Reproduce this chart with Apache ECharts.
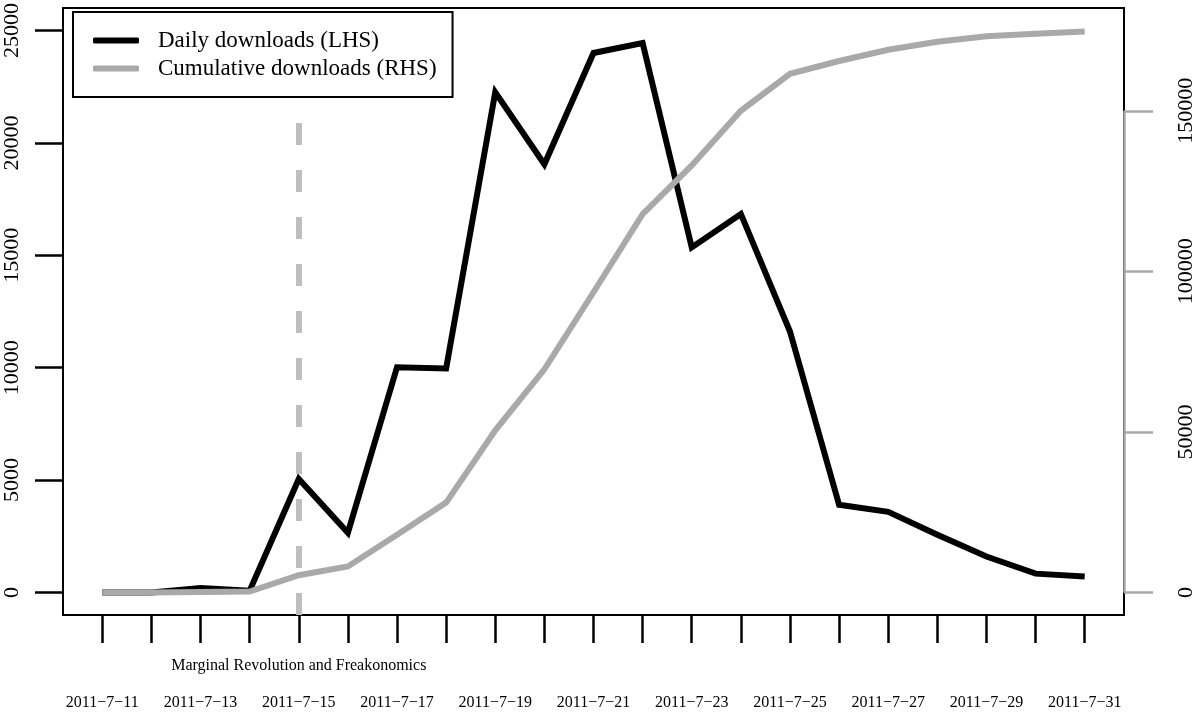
<!DOCTYPE html>
<html>
<head>
<meta charset="utf-8">
<script src="https://cdn.jsdelivr.net/npm/echarts@6/dist/echarts.min.js"></script>
<style>
html,body{margin:0;padding:0;background:#fff;}
#chart{width:1200px;height:713px;}
</style>
</head>
<body>
<div id="chart"></div>
<script>
var dates = ['2011−7−11','2011−7−12','2011−7−13','2011−7−14','2011−7−15','2011−7−16','2011−7−17',
  '2011−7−18','2011−7−19','2011−7−20','2011−7−21','2011−7−22','2011−7−23','2011−7−24',
  '2011−7−25','2011−7−26','2011−7−27','2011−7−28','2011−7−29','2011−7−30','2011−7−31'];
var daily = [0, 0, 200, 80, 5050, 2660, 10020, 9970, 22250, 19050, 24000, 24440, 15350, 16840,
  11610, 3900, 3590, 2570, 1600, 840, 710];
var cumulative = [0, 0, 200, 300, 5400, 8100, 18000, 28000, 50500, 69500, 93500, 117800, 133000, 150000,
  161500, 165500, 169000, 171500, 173200, 174000, 174700];
var leftTicks = [0, 5000, 10000, 15000, 20000, 25000];
var rightTicks = [0, 50000, 100000, 150000];
var eventIndex = 4;
var eventLabel = 'Marginal Revolution and Freakonomics';
var seriesNames = ['Daily downloads (LHS)', 'Cumulative downloads (RHS)'];

var FONT = '"Liberation Serif", "Times New Roman", serif';
var idx = dates.map(function (d, i) { return i; });
var labelIdx = idx.filter(function (i) { return i % 2 === 0; });
var xMin = -0.8, xMax = dates.length - 1 + 0.8;
var plain = function (v) { return String(v); };

var chart = echarts.init(document.getElementById('chart'), null, {renderer: 'canvas'});
chart.setOption({
  animation: false,
  backgroundColor: '#fff',
  grid: {left: 63, right: 76, top: 7, bottom: 98, show: true, borderColor: '#000', borderWidth: 2, backgroundColor: 'transparent'},
  legend: {
    left: 73, top: 12, orient: 'vertical', z: 20,
    padding: [17, 16, 17, 20], itemGap: 5,
    itemWidth: 46, itemHeight: 6,
    backgroundColor: '#fff', borderColor: '#000', borderWidth: 2,
    textStyle: {fontFamily: FONT, fontSize: 23, color: '#000', lineHeight: 23, padding: [0, 0, 0, 14]},
    data: [
      {name: seriesNames[0], icon: 'roundRect', itemStyle: {color: '#000'}},
      {name: seriesNames[1], icon: 'roundRect', itemStyle: {color: '#a9a9a9'}}
    ]
  },
  xAxis: [{
    type: 'value', min: xMin, max: xMax,
    splitLine: {show: false},
    axisLine: {show: true, onZero: false, lineStyle: {color: '#000', width: 2}},
    axisTick: {show: true, customValues: idx, length: 28, lineStyle: {color: '#000', width: 2.5}},
    axisLabel: {customValues: labelIdx, margin: 80, fontFamily: FONT, fontSize: 16, color: '#000',
      formatter: function (v) { return dates[Math.round(v)]; }}
  }, {
    type: 'value', min: xMin, max: xMax, position: 'bottom',
    splitLine: {show: false}, axisLine: {show: false, onZero: false}, axisTick: {show: false},
    axisLabel: {customValues: [eventIndex], margin: 43, fontFamily: FONT, fontSize: 16, color: '#000',
      formatter: function () { return eventLabel; }}
  }],
  yAxis: [{
    type: 'value', min: -1000, max: 26000, position: 'left',
    splitLine: {show: false},
    axisLine: {show: true, onZero: false, lineStyle: {color: '#000', width: 2}},
    axisTick: {show: true, customValues: leftTicks, length: 28, lineStyle: {color: '#000', width: 2.5}},
    axisLabel: {customValues: leftTicks, rotate: 90, margin: 40, fontFamily: FONT, fontSize: 22, color: '#000', formatter: plain}
  }, {
    type: 'value', min: -7000, max: 182000, position: 'right',
    splitLine: {show: false},
    axisLine: {show: false, onZero: false},
    axisTick: {show: true, customValues: rightTicks, length: 29, lineStyle: {color: '#a9a9a9', width: 2.5}},
    axisLabel: {customValues: rightTicks, rotate: 90, margin: 51, fontFamily: FONT, fontSize: 22, color: '#000', formatter: plain}
  }],
  series: [{
    name: seriesNames[0], type: 'line', xAxisIndex: 0, yAxisIndex: 0,
    data: daily.map(function (v, i) { return [i, v]; }),
    symbol: 'none', showSymbol: false,
    lineStyle: {color: '#000', width: 6, join: 'miter'},
    itemStyle: {color: '#000'},
    markLine: {
      silent: true, symbol: ['none', 'none'], label: {show: false},
      lineStyle: {color: '#bebebe', width: 6, type: [22, 25], dashOffset: 0},
      data: [{xAxis: eventIndex}]
    },
    z: 2
  }, {
    name: seriesNames[1], type: 'line', xAxisIndex: 0, yAxisIndex: 1,
    data: cumulative.map(function (v, i) { return [i, v]; }),
    symbol: 'none', showSymbol: false,
    lineStyle: {color: '#a9a9a9', width: 6, join: 'miter'},
    itemStyle: {color: '#a9a9a9'},
    markLine: {
      silent: true, symbol: ['none', 'none'], label: {show: false},
      lineStyle: {color: '#a9a9a9', width: 2.5, type: 'solid'},
      data: [[{coord: [xMax, rightTicks[0]]}, {coord: [xMax, rightTicks[rightTicks.length - 1]]}]]
    },
    z: 3
  }]
});
</script>
</body>
</html>
